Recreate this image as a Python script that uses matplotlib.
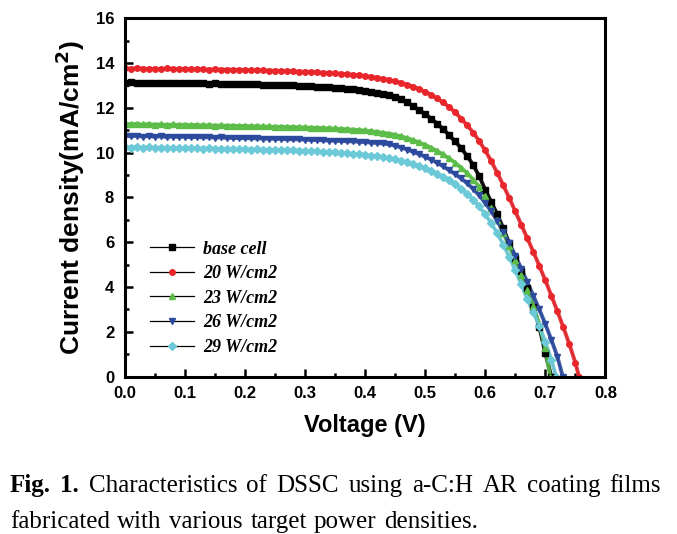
import matplotlib
matplotlib.use("Agg")
import matplotlib.pyplot as plt
from matplotlib.lines import Line2D
from matplotlib.ticker import MultipleLocator

# voltage grid (V)
volts = [0.00, 0.01, 0.02, 0.03, 0.04, 0.05, 0.06, 0.07, 0.08, 0.09,
         0.10, 0.11, 0.12, 0.13, 0.14, 0.15, 0.16, 0.17, 0.18, 0.19,
         0.20, 0.21, 0.22, 0.23, 0.24, 0.25, 0.26, 0.27, 0.28, 0.29,
         0.30, 0.31, 0.32, 0.33, 0.34, 0.35, 0.36, 0.37, 0.38, 0.39,
         0.40, 0.41, 0.42, 0.43, 0.44, 0.45, 0.46, 0.47, 0.48, 0.49,
         0.50, 0.51, 0.52, 0.53, 0.54, 0.55, 0.56, 0.57, 0.58, 0.59,
         0.60, 0.61, 0.62, 0.63, 0.64, 0.65, 0.66, 0.67, 0.68, 0.69,
         0.70, 0.71, 0.72, 0.73, 0.74, 0.75]

# current density (mA/cm2) for each cell
base_cell = [13.12, 13.14, 13.13, 13.12, 13.13, 13.11, 13.12, 13.11, 13.12, 13.10,
             13.11, 13.10, 13.09, 13.10, 13.08, 13.09, 13.08, 13.07, 13.08, 13.06,
             13.06, 13.05, 13.05, 13.04, 13.03, 13.03, 13.02, 13.01, 13.00, 12.99,
             12.98, 12.96, 12.94, 12.92, 12.91, 12.89, 12.87, 12.85, 12.83, 12.79,
             12.76, 12.72, 12.68, 12.63, 12.57, 12.48, 12.38, 12.25, 12.08, 11.90,
             11.72, 11.52, 11.30, 11.05, 10.78, 10.50, 10.20, 9.85, 9.45, 8.95,
             8.35, 7.80, 7.25, 6.62, 5.95, 5.32, 4.70, 3.95, 3.12, 2.22,
             1.05]
w20 = [13.76, 13.74, 13.77, 13.75, 13.74, 13.75, 13.73, 13.76, 13.74, 13.73,
       13.74, 13.72, 13.73, 13.72, 13.71, 13.72, 13.70, 13.71, 13.70, 13.69,
       13.69, 13.68, 13.68, 13.67, 13.66, 13.66, 13.65, 13.64, 13.63, 13.62,
       13.61, 13.60, 13.59, 13.57, 13.56, 13.54, 13.52, 13.50, 13.48, 13.45,
       13.42, 13.39, 13.35, 13.30, 13.25, 13.19, 13.12, 13.04, 12.95, 12.84,
       12.72, 12.58, 12.42, 12.24, 12.04, 11.80, 11.52, 11.22, 10.90, 10.52,
       10.10, 9.62, 9.10, 8.55, 7.98, 7.38, 6.78, 6.18, 5.58, 4.95,
       4.30, 3.62, 2.92, 2.20, 1.45, 0.62]
w23 = [11.30, 11.27, 11.29, 11.26, 11.28, 11.25, 11.27, 11.24, 11.26, 11.24,
       11.25, 11.23, 11.24, 11.22, 11.23, 11.21, 11.22, 11.20, 11.21, 11.19,
       11.20, 11.18, 11.19, 11.17, 11.17, 11.16, 11.16, 11.15, 11.15, 11.14,
       11.13, 11.12, 11.11, 11.10, 11.09, 11.08, 11.06, 11.05, 11.03, 11.01,
       10.99, 10.96, 10.93, 10.89, 10.85, 10.80, 10.73, 10.65, 10.56, 10.46,
       10.35, 10.22, 10.08, 9.92, 9.74, 9.55, 9.33, 9.08, 8.80, 8.48,
       8.05, 7.55, 7.00, 6.42, 5.82, 5.20, 4.55, 3.88, 3.15, 2.35,
       1.30]
w26 = [10.76, 10.73, 10.75, 10.72, 10.74, 10.71, 10.73, 10.70, 10.72, 10.70,
       10.71, 10.69, 10.70, 10.68, 10.69, 10.67, 10.68, 10.66, 10.66, 10.65,
       10.65, 10.64, 10.64, 10.63, 10.62, 10.62, 10.61, 10.60, 10.60, 10.59,
       10.58, 10.57, 10.56, 10.55, 10.54, 10.53, 10.52, 10.51, 10.50, 10.49,
       10.47, 10.45, 10.43, 10.41, 10.37, 10.31, 10.23, 10.14, 10.04, 9.93,
       9.82, 9.69, 9.55, 9.39, 9.22, 9.04, 8.85, 8.63, 8.38, 8.09,
       7.76, 7.38, 6.96, 6.48, 5.95, 5.40, 4.82, 4.22, 3.62, 3.00,
       2.35, 1.65, 0.90]
w29 = [10.26, 10.23, 10.25, 10.22, 10.24, 10.21, 10.23, 10.20, 10.22, 10.20,
       10.21, 10.19, 10.20, 10.18, 10.19, 10.17, 10.18, 10.16, 10.17, 10.15,
       10.16, 10.14, 10.15, 10.13, 10.13, 10.12, 10.11, 10.11, 10.10, 10.09,
       10.08, 10.07, 10.06, 10.04, 10.03, 10.01, 9.99, 9.97, 9.95, 9.93,
       9.90, 9.87, 9.84, 9.80, 9.76, 9.71, 9.65, 9.58, 9.50, 9.41,
       9.31, 9.19, 9.06, 8.92, 8.76, 8.58, 8.38, 8.16, 7.90, 7.60,
       7.25, 6.85, 6.40, 5.90, 5.35, 4.75, 4.12, 3.45, 2.90, 2.25,
       1.55, 0.75]

# open-circuit voltages (J = 0)
voc = [0.710, 0.756, 0.708, 0.729, 0.718]

labels = ['base cell', '20 W/cm2', '23 W/cm2', '26 W/cm2', '29 W/cm2']
series = [base_cell, w20, w23, w26, w29]
colors = ['black', '#e8262b', '#5cbd48', '#2c4a9e', '#6ccad8']
markers = ['s', 'o', '^', 'v', 'D']


def justify(fig, words, weights, x0, x1, y, size):
    """把一行单词两端对齐放置（像素坐标）"""
    W, H = fig.bbox.width, fig.bbox.height
    r = fig.canvas.get_renderer()
    texts = [fig.text(0, 1 - y / H, w, fontsize=size, family='Liberation Serif',
                      weight=wt, va='baseline', ha='left')
             for w, wt in zip(words, weights)]
    widths = [t.get_window_extent(r).width for t in texts]
    gap = (x1 - x0 - sum(widths)) / (len(words) - 1)
    x = x0
    for t, w in zip(texts, widths):
        t.set_x(x / W)
        x += w + gap


fig = plt.figure(figsize=(6.77, 5.34), dpi=100)
ax = fig.add_axes([0.184, 0.2946, 0.7103, 0.6712])

handles = []
for cur, v_oc, lab, c, m in zip(series, voc, labels, colors, markers):
    x = volts[:len(cur)] + [v_oc]
    y = cur + [0.0]
    ax.plot(x, y, color='black', lw=0.7, zorder=2)
    ax.plot(x, y, color=c, lw=2.8, alpha=0.9, zorder=3)
    ax.plot(x, y, ls='none', marker=m, markersize=4, markerfacecolor=c,
            markeredgecolor=c, zorder=4)
    handles.append(Line2D([], [], color='black', lw=0.9, marker=m, markersize=4,
                          markerfacecolor=c, markeredgecolor=c, label=lab))

ax.set_xlim(0, 0.8)
ax.set_ylim(0, 16)
ax.xaxis.set_major_locator(MultipleLocator(0.1))
ax.xaxis.set_minor_locator(MultipleLocator(0.05))
ax.yaxis.set_major_locator(MultipleLocator(2))
ax.yaxis.set_minor_locator(MultipleLocator(1))
ax.tick_params(which='both', direction='in', width=1.8, labelsize=12)
ax.tick_params(axis='x', pad=7)
ax.tick_params(axis='y', pad=7.5)
ax.tick_params(which='major', length=6)
ax.tick_params(which='minor', length=3)
for lb in ax.get_xticklabels() + ax.get_yticklabels():
    lb.set_family('Liberation Sans')
    lb.set_fontweight('bold')
for s in ax.spines.values():
    s.set_linewidth(2.2)
    s.set_zorder(5)

ax.set_xlabel('Voltage (V)', fontsize=17, fontweight='bold',
              family='Liberation Sans', labelpad=9)
ax.set_ylabel('Current density(mA/cm$^\\mathbf{2}$)', fontsize=19,
              fontweight='bold', family='Liberation Sans', labelpad=6)

ax.legend(handles=handles, loc='upper left', bbox_to_anchor=(0.02, 0.425),
          frameon=False, handlelength=2.4, labelspacing=0.42, handletextpad=0.5,
          prop={'family': 'Liberation Serif', 'weight': 'bold',
                'style': 'italic', 'size': 13})

justify(fig, ['Fig.', '1.', 'Characteristics', 'of', 'DSSC', 'using', 'a-C:H',
              'AR', 'coating', 'films'],
        ['bold', 'bold'] + ['normal'] * 8, 10, 661, 492, 18)
justify(fig, ['fabricated', 'with', 'various', 'target', 'power', 'densities.'],
        ['normal'] * 6, 10, 478, 528, 18)

fig.savefig('out.png', dpi=100)
